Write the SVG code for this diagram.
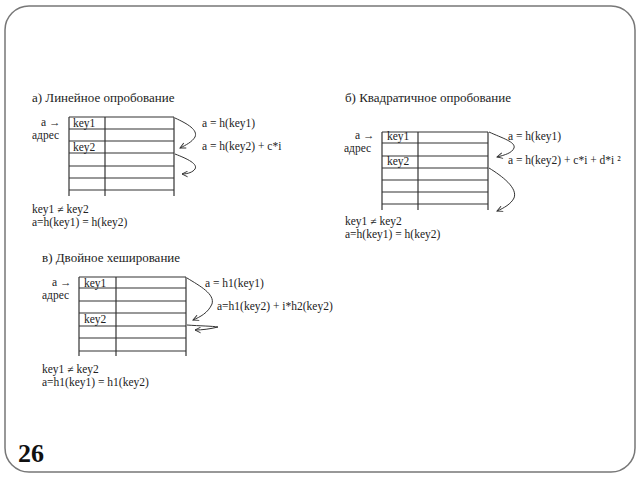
<svg xmlns="http://www.w3.org/2000/svg" width="640" height="480" viewBox="0 0 640 480" font-family="'Liberation Serif', 'Times New Roman', serif">
<defs>
<style>
text{font-family:'Liberation Serif','Times New Roman',serif;fill:#222;font-size:11.5px}
.t{font-size:13px}
.g line{stroke:#333;stroke-width:1.2}
.c path{fill:none;stroke:#333;stroke-width:1}
.n{font-weight:bold;font-size:26px;fill:#111}
</style>
<marker id="ah" viewBox="0 0 10 10" refX="9" refY="5" markerWidth="7" markerHeight="7" orient="auto" markerUnits="userSpaceOnUse">
<path d="M1,1 L9,5 L1,9" fill="none" stroke="#333" stroke-width="1.4"/>
</marker>
</defs>
<rect x="5" y="6" width="630" height="466" rx="24" fill="#fff" stroke="#777" stroke-width="1.5"/>

<g id="panel-a" font-family="Liberation Serif, serif">
<text class="t" x="32" y="102">а) Линейное опробование</text>
<g class="g">
<line x1="69" y1="117" x2="174" y2="117"/><line x1="69" y1="129" x2="174" y2="129"/><line x1="69" y1="141" x2="174" y2="141"/><line x1="69" y1="153" x2="174" y2="153"/><line x1="69" y1="166" x2="174" y2="166"/><line x1="69" y1="178" x2="174" y2="178"/><line x1="69" y1="190" x2="174" y2="190"/>
<line x1="69" y1="117" x2="69" y2="196"/><line x1="105" y1="117" x2="105" y2="196"/><line x1="174" y1="117" x2="174" y2="196"/>
</g>
<text x="73" y="127">key1</text>
<text x="73" y="151">key2</text>
<text x="41" y="126">a →</text>
<text x="32" y="139">адрес</text>
<text x="202" y="127">a = h(key1)</text>
<text x="202" y="150">a = h(key2) + c*i</text>
<text x="32" y="213">key1 ≠ key2</text>
<text x="32" y="226">a=h(key1) = h(key2)</text>
</g>

<g id="panel-b" font-family="Liberation Serif, serif">
<text class="t" x="345" y="102">б) Квадратичное опробование</text>
<g class="g">
<line x1="382" y1="132" x2="488" y2="132"/><line x1="382" y1="143" x2="488" y2="143"/><line x1="382" y1="156" x2="488" y2="156"/><line x1="382" y1="168" x2="488" y2="168"/><line x1="382" y1="180" x2="488" y2="180"/><line x1="382" y1="192" x2="488" y2="192"/><line x1="382" y1="204" x2="488" y2="204"/>
<line x1="382" y1="132" x2="382" y2="210"/><line x1="418" y1="132" x2="418" y2="210"/><line x1="488" y1="132" x2="488" y2="210"/>
</g>
<text x="387" y="140">key1</text>
<text x="387" y="165">key2</text>
<text x="355" y="139">a →</text>
<text x="344" y="152">адрес</text>
<text x="508" y="140">a = h(key1)</text>
<text x="508" y="164">a = h(key2) + c*i + d*i ²</text>
<text x="345" y="225">key1 ≠ key2</text>
<text x="345" y="238">a=h(key1) = h(key2)</text>
</g>

<g id="panel-c" font-family="Liberation Serif, serif">
<text class="t" x="42" y="262">в) Двойное хеширование</text>
<g class="g">
<line x1="79" y1="277" x2="186" y2="277"/><line x1="79" y1="288" x2="186" y2="288"/><line x1="79" y1="301" x2="186" y2="301"/><line x1="79" y1="313" x2="186" y2="313"/><line x1="79" y1="326" x2="186" y2="326"/><line x1="79" y1="338" x2="186" y2="338"/><line x1="79" y1="351" x2="186" y2="351"/>
<line x1="79" y1="277" x2="79" y2="356"/><line x1="116" y1="277" x2="116" y2="356"/><line x1="186" y1="277" x2="186" y2="356"/>
</g>
<text x="84" y="287">key1</text>
<text x="84" y="323">key2</text>
<text x="52" y="286">a →</text>
<text x="42" y="299">адрес</text>
<text x="205" y="287">a = h1(key1)</text>
<text x="217" y="310">a=h1(key2) + i*h2(key2)</text>
<text x="42" y="373">key1 ≠ key2</text>
<text x="42" y="386">a=h1(key1) = h1(key2)</text>
</g>

<g id="connectors" class="c">
<path d="M175,118 C188,124 198,130 195,137 C192,142 186,145 180,148" marker-end="url(#ah)"/>
<path d="M175,154 C188,159 198,164 195,169 C193,172 188,174 182,174" marker-end="url(#ah)"/>
<path d="M489,132 C502,138 516,142 514,148 C512,153 505,155 497,157" marker-end="url(#ah)"/>
<path d="M489,168 C502,176 518,188 514,198 C511,204 504,208 497,211" marker-end="url(#ah)"/>
<path d="M187,278 C200,286 215,294 212,304 C208,313 200,317 193,320" marker-end="url(#ah)"/>
<path d="M187,325 C200,326 212,326 218,327 C210,329 202,330 195,330" marker-end="url(#ah)"/>
</g>

<text class="n" x="18" y="462">26</text>
</svg>
